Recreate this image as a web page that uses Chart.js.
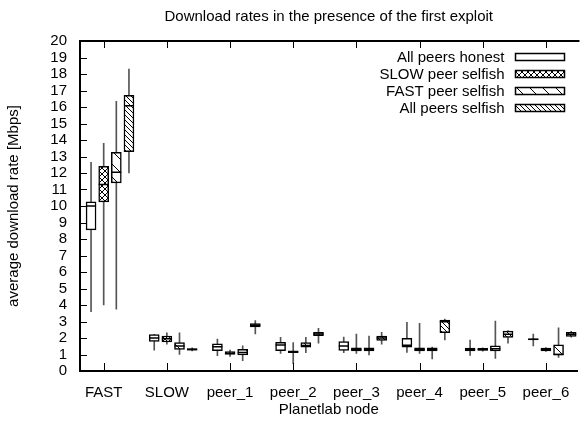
<!DOCTYPE html>
<html><head><meta charset="utf-8">
<script src="https://cdn.jsdelivr.net/npm/chart.js@4.4.0/dist/chart.umd.min.js"></script>
<style>html,body{margin:0;padding:0;background:#fff;overflow:hidden}#wrap{width:584px;height:423px;position:relative}</style>
</head><body><div id="wrap"><canvas id="c" width="584" height="423"></canvas></div>
<script>
// ---------- data ----------
const categories = ['FAST','SLOW','peer_1','peer_2','peer_3','peer_4','peer_5','peer_6'];
const seriesLabels = ['All peers honest','SLOW peer selfish','FAST peer selfish','All peers selfish'];
const yTickValues = [0,1,2,3,4,5,6,7,8,9,10,11,12,13,14,15,16,17,18,19,20];
// each entry: [min, q1, median, q3, max]
const allPeersHonest = [
  [3.6, 8.55, 10.0, 10.25, 12.65],
  [1.27, 1.8, 2.0, 2.2, 2.22],
  [0.93, 1.23, 1.47, 1.64, 1.94],
  [1.07, 1.23, 1.58, 1.74, 2.04],
  [1.11, 1.25, 1.52, 1.78, 2.06],
  [1.13, 1.44, 1.56, 1.98, 2.95],
  [0.95, 1.21, 1.3, 1.39, 1.88],
  [1.52, 1.88, 1.92, 1.95, 2.24]
];
const slowPeerSelfish = [
  [4.0, 10.25, 11.3, 12.4, 13.8],
  [1.62, 1.76, 1.95, 2.12, 2.32],
  [0.88, 1.0, 1.08, 1.17, 1.27],
  [0.45, 1.11, 1.17, 1.23, 1.72],
  [1.07, 1.21, 1.3, 1.41, 2.24],
  [1.07, 1.21, 1.3, 1.41, 2.89],
  [1.2, 1.25, 1.3, 1.37, 1.4],
  [1.18, 1.21, 1.3, 1.39, 1.42]
];
const fastPeerSelfish = [
  [3.75, 11.4, 12.05, 13.25, 16.35],
  [1.0, 1.31, 1.52, 1.72, 2.32],
  [0.63, 0.97, 1.12, 1.31, 1.53],
  [1.11, 1.44, 1.55, 1.72, 2.04],
  [0.97, 1.21, 1.3, 1.41, 2.12],
  [0.73, 1.21, 1.3, 1.41, 1.45],
  [0.77, 1.21, 1.35, 1.52, 3.03],
  [0.83, 0.97, 1.0, 1.58, 2.62]
];
const allPeersSelfish = [
  [12.0, 13.3, 16.08, 16.7, 18.3],
  [1.22, 1.26, 1.3, 1.36, 1.4],
  [2.24, 2.67, 2.77, 2.87, 3.05],
  [1.68, 2.14, 2.25, 2.35, 2.59],
  [1.62, 1.86, 2.0, 2.12, 2.34],
  [1.88, 2.32, 2.99, 3.09, 3.15],
  [1.68, 2.04, 2.22, 2.42, 2.45],
  [2.05, 2.1, 2.22, 2.34, 2.4]
];
const seriesData = [allPeersHonest, slowPeerSelfish, fastPeerSelfish, allPeersSelfish];

// ---------- styling / layout ----------
const seriesOffsets = [-0.2, 0, 0.2, 0.4];
const patternKinds = ['none','cross','sparse','dense'];
const FONT = "'Liberation Sans', Arial, sans-serif";
Chart.defaults.font.family = FONT;
Chart.defaults.font.size = 15;
Chart.defaults.color = '#000';

function makePattern(kind){
  if(kind==='none') return '#ffffff';
  const n = kind==='cross' ? 6 : (kind==='sparse' ? 13 : 5);
  const c = document.createElement('canvas');
  c.width = n; c.height = n;
  const g = c.getContext('2d');
  g.fillStyle = '#fff'; g.fillRect(0,0,n,n);
  g.strokeStyle = '#000'; g.lineWidth = 1;
  g.beginPath();
  for(const k of [-n,0,n]){
    g.moveTo(k,0); g.lineTo(k+n,n);
    if(kind==='cross'){ g.moveTo(k+n,0); g.lineTo(k,n); }
  }
  g.stroke();
  return g.createPattern(c,'repeat');
}
const patterns = patternKinds.map(makePattern);

const datasets = [];
seriesData.forEach((d, s) => {
  const off = seriesOffsets[s];
  datasets.push({
    type:'bar', label: seriesLabels[s]+' range',
    data: d.map((v,i)=>({x:i+1+off, y:[v[0], v[4]]})),
    barThickness:1, backgroundColor:'#555', borderWidth:0, grouped:false, order:3
  });
  datasets.push({
    type:'bar', label: seriesLabels[s],
    data: d.map((v,i)=>({x:i+1+off, y:[v[1], v[3]]})),
    barThickness:10, backgroundColor:patterns[s], borderColor:'#000', borderWidth:1.5,
    borderSkipped:false, grouped:false, order:2
  });
  datasets.push({
    type:'scatter', label: seriesLabels[s]+' median',
    data: d.map((v,i)=>({x:i+1+off, y:v[2]})),
    pointStyle:'line', radius:5, hoverRadius:5, borderColor:'#000', borderWidth:1.5,
    backgroundColor:'#000', showLine:false, order:1
  });
});

const framePlugin = {
  id:'frame',
  afterDraw(chart){
    const {ctx, chartArea:a, scales:{x, y}} = chart;
    ctx.save();
    ctx.strokeStyle = '#000';
    ctx.lineWidth = 2;
    ctx.beginPath(); ctx.moveTo(a.left-1, a.top); ctx.lineTo(a.right+2, a.top); ctx.stroke();
    ctx.lineWidth = 1;
    ctx.beginPath();
    yTickValues.forEach(v=>{ const py = Math.round(y.getPixelForValue(v))+0.5; ctx.moveTo(a.left, py); ctx.lineTo(a.left+7, py); });
    categories.forEach((c,i)=>{ const px = Math.round(x.getPixelForValue(i+1))+0.5;
      ctx.moveTo(px, a.bottom); ctx.lineTo(px, a.bottom-8);
      ctx.moveTo(px, a.top); ctx.lineTo(px, a.top+7); });
    ctx.stroke();
    // legend
    ctx.font = "15px " + FONT;
    ctx.fillStyle = '#000'; ctx.textAlign = 'right'; ctx.textBaseline = 'middle';
    seriesLabels.forEach((lab, s)=>{
      const cy = a.top + 16 + s*17;
      ctx.fillText(lab, a.right - 73, cy+1);
      const bx = a.right - 62, bw = 49, bh = 7;
      ctx.fillStyle = patterns[s];
      ctx.fillRect(bx, cy-bh/2, bw, bh);
      ctx.lineWidth = 1.5; ctx.strokeStyle = '#000';
      ctx.strokeRect(bx, cy-bh/2, bw, bh);
      ctx.fillStyle = '#000';
    });
    ctx.restore();
  }
};

new Chart(document.getElementById('c'), {
  type:'bar',
  data:{datasets},
  options:{
    responsive:false, animation:false, devicePixelRatio:1,
    layout:{padding:{left:0,right:0,top:0,bottom:0}},
    plugins:{
      legend:{display:false}, tooltip:{enabled:false},
      title:{display:true, fullSize:false, text:'Download rates in the presence of the first exploit',
        font:{size:15, weight:'normal'}, color:'#000', padding:{top:8,bottom:15}}
    },
    scales:{
      x:{type:'linear', min:0.625, max:8.5, offset:false,
        afterBuildTicks(s){ s.ticks = categories.map((c,i)=>({value:i+1})); },
        ticks:{callback:(v,i)=>categories[i], padding:13, maxRotation:0, autoSkip:false, color:'#000'},
        grid:{display:false, drawTicks:false, tickLength:0},
        border:{display:true, color:'#000', width:2},
        title:{display:true, text:'Planetlab node', color:'#000', font:{size:15}, padding:{top:0,bottom:4}},
        afterFit(s){ s.height = 52; }
      },
      y:{type:'linear', min:0, max:20,
        afterBuildTicks(s){ s.ticks = yTickValues.map(v=>({value:v})); },
        ticks:{padding:13, color:'#000', autoSkip:false},
        grid:{display:false, drawTicks:false, tickLength:0},
        border:{display:true, color:'#000', width:2},
        title:{display:true, text:'average download rate [Mbps]', color:'#000', font:{size:15}, padding:{top:5,bottom:0}},
        afterFit(s){ s.width = 80; }
      }
    }
  },
  plugins:[framePlugin]
});
</script></body></html>
